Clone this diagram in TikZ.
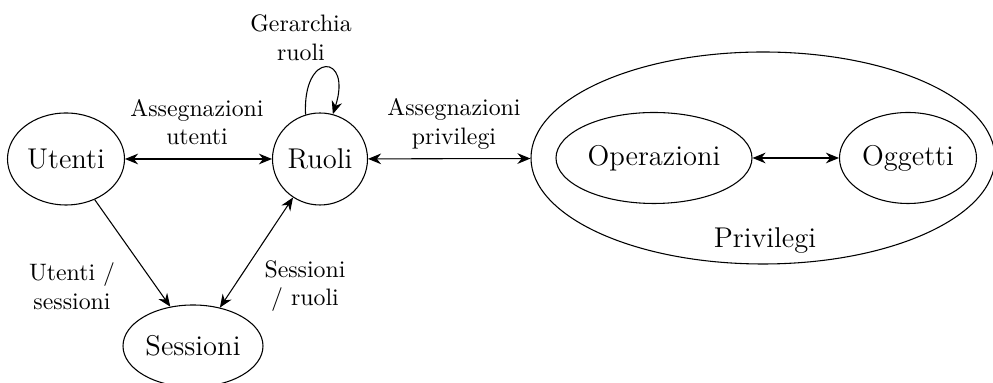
\documentclass[tikz,border=0pt]{standalone}
\usetikzlibrary{shapes.geometric,arrows.meta}
\begin{document}
\begin{tikzpicture}[x=0.4202pt,y=-0.4202pt,
  ent/.style={draw,ellipse,font=\large,inner sep=0pt,line width=0.45pt},
  lbl/.style={align=center,font=\normalsize,inner sep=0pt},
  conn/.style={draw,line width=0.45pt,{Stealth[length=5.5pt,width=4.5pt,inset=1.8pt]}-{Stealth[length=5.5pt,width=4.5pt,inset=1.8pt]}},
  oneway/.style={draw,line width=0.45pt,-{Stealth[length=5.5pt,width=4.5pt,inset=1.8pt]}}]
\useasboundingbox (0,0) rectangle (993,383);
\node[ent,minimum width=117*0.4202pt,minimum height=92*0.4202pt] (u) at (66,159) {Utenti};
\node[ent,minimum width=95*0.4202pt,minimum height=92*0.4202pt] (r) at (320,159) {Ruoli};
\node[ent,minimum width=140*0.4202pt,minimum height=82*0.4202pt] (s) at (193,346) {Sessioni};
\node[ent,minimum width=464*0.4202pt,minimum height=212*0.4202pt] (p) at (763,158) {};
\node[ent,minimum width=196*0.4202pt,minimum height=91*0.4202pt] (op) at (654,158) {Operazioni};
\node[ent,minimum width=137*0.4202pt,minimum height=91*0.4202pt] (og) at (908,158) {Oggetti};
\node[font=\large,inner sep=0pt] (pl) at (765,241) {Privilegi};
\node[lbl] (l1) at (197,122) {Assegnazioni\\utenti};
\node[lbl] (l2) at (454,124) {Assegnazioni\\privilegi};
\node[lbl] (l3) at (301,38) {Gerarchia\\ruoli};
\node[lbl] (l4) at (72,286) {Utenti /\\sessioni};
\node[lbl] (l5) at (305,286) {Sessioni\\/ ruoli};
\path[conn] (u) -- (r);
\path[conn] (r) -- (p);
\path[conn] (op) -- (og);
\path[oneway] (u) -- (s.120);
\path[conn] (s.55) -- (r.235);
\path[oneway] (r.108) .. controls +(-93:64) and +(-72:64) .. (r.74);
\end{tikzpicture}
\end{document}
